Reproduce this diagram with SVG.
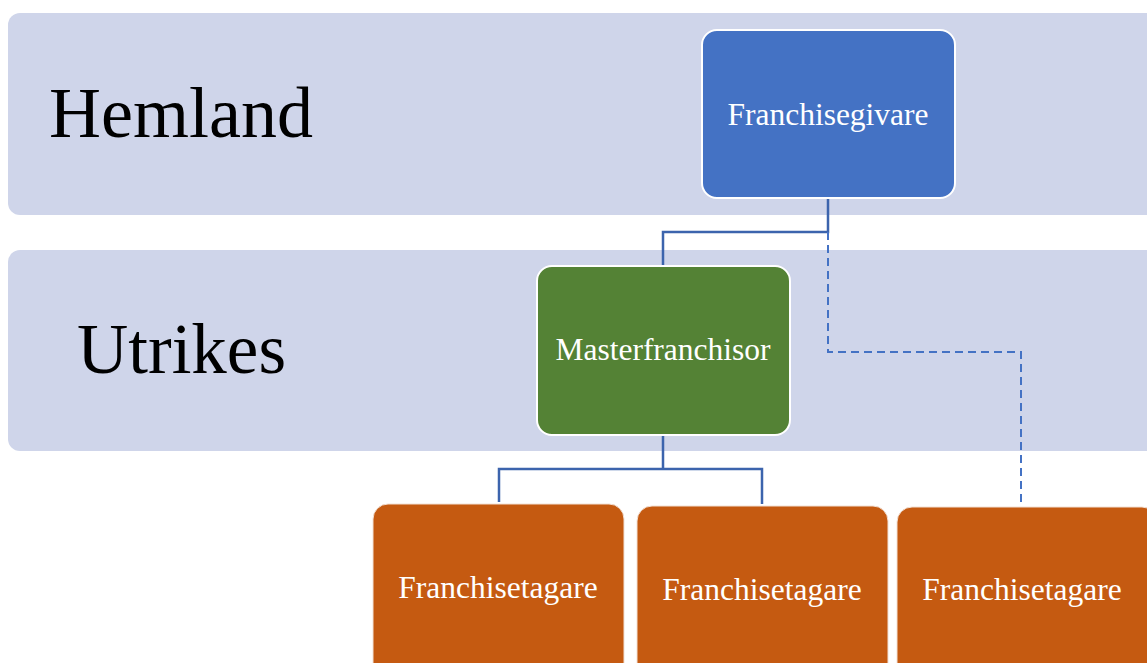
<svg xmlns="http://www.w3.org/2000/svg" width="1147" height="663" viewBox="0 0 1147 663">
<style>
.band{fill:#CFD5EA}
.lbl{font-family:"Liberation Serif","Times New Roman",serif;fill:#000;font-size:71px}
.nt{font-family:"Liberation Serif","Times New Roman",serif;fill:#fff;font-size:31.5px;text-anchor:middle}
.solid{fill:none;stroke:#3C64AD;stroke-width:2.5}
.dash{fill:none;stroke:#4472C4;stroke-width:2;stroke-dasharray:8 5}
.org{fill:#C55A11;stroke:#F2E0D4;stroke-width:1}
</style>
<rect width="1147" height="663" fill="#fff"/>
<g id="band-hemland">
<rect class="band" x="8" y="13" width="1160" height="202" rx="12"/>
<text class="lbl" x="49" y="137" style="font-size:72px">Hemland</text>
</g>
<g id="band-utrikes">
<rect class="band" x="8" y="250" width="1160" height="201" rx="12"/>
<text class="lbl" x="77" y="373">Utrikes</text>
</g>
<g id="connectors">
<path class="solid" d="M828 199 V232 H663 V266"/>
<path class="dash" d="M828 232 V352 H1021 V506"/>
<path class="solid" d="M663 435 V469 H499 V502 M663 469 H762 V504"/>
</g>
<g id="franchisegivare">
<rect x="702" y="30" width="253" height="168" rx="15" fill="#4472C4" stroke="#fff" stroke-width="2"/>
<text class="nt" x="828" y="125">Franchisegivare</text>
</g>
<g id="masterfranchisor">
<rect x="537" y="266" width="253" height="169" rx="15" fill="#548235" stroke="#fff" stroke-width="2"/>
<text class="nt" x="663" y="360">Masterfranchisor</text>
</g>
<g id="franchisetagare1">
<rect class="org" x="373" y="504" width="251" height="175" rx="15"/>
<text class="nt" x="498" y="598">Franchisetagare</text>
</g>
<g id="franchisetagare2">
<rect class="org" x="637" y="506" width="251" height="175" rx="15"/>
<text class="nt" x="762" y="600">Franchisetagare</text>
</g>
<g id="franchisetagare3">
<rect class="org" x="897" y="507" width="260" height="175" rx="15"/>
<text class="nt" x="1022" y="600">Franchisetagare</text>
</g>
</svg>
